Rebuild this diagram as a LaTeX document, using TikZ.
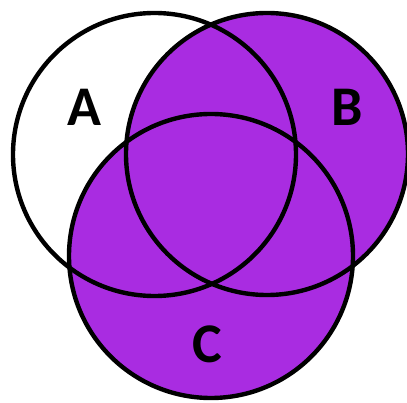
\documentclass[tikz,border=0pt]{standalone}
\usepackage{fontspec}
\newfontfamily\labelfont{Carlito}
\definecolor{vennfill}{RGB}{169,44,225}

\begin{document}
\begin{tikzpicture}[
  x=1pt, y=-1pt,
  ring/.style={draw=black, line width=4.4pt},
  shade/.style={fill=vennfill},
  setlabel/.style={font=\labelfont\bfseries\fontsize{56}{56}\selectfont, inner sep=0pt}
]
\useasboundingbox (0,0) rectangle (407,403);

% shaded region: B union C
\fill[shade] (267,154) circle (141);
\fill[shade] (211,256) circle (142);

% outlines
\draw[ring] (154.5,154.5) circle (141.5);
\draw[ring] (267,154) circle (141);
\draw[ring] (211,256) circle (142);

\node[setlabel] (labA) at (84,107) {A};
\node[setlabel] (labB) at (347,107) {B};
\node[setlabel] (labC) at (207,344) {C};

\end{tikzpicture}
\end{document}
